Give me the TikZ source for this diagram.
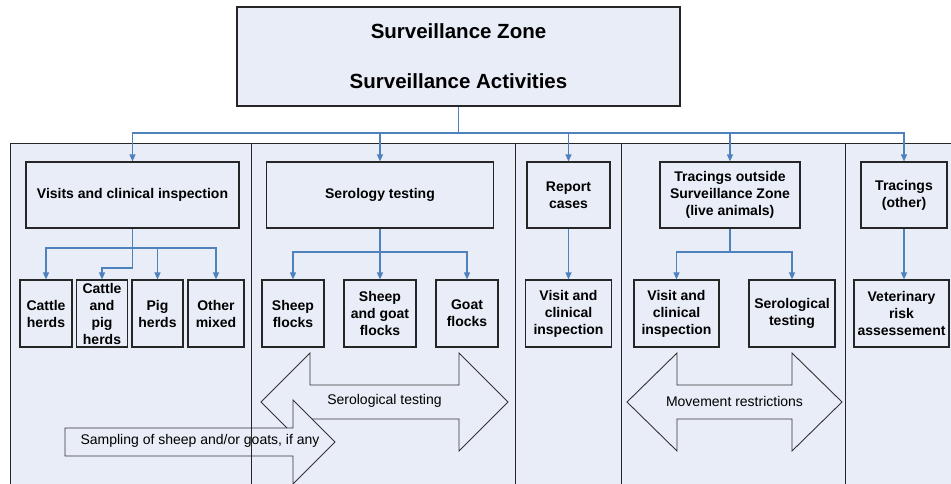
\documentclass[tikz,border=0pt]{standalone}
\usepackage{fontspec}
\setmainfont{Liberation Sans}
\usetikzlibrary{arrows.meta}

\definecolor{zonefill}{RGB}{232,237,247}
\definecolor{linkblue}{RGB}{79,129,189}

\tikzset{
	act/.style={rectangle, draw=black!85, line width=1.2pt, fill=zonefill, inner sep=0pt, align=center, font=\fontsize{14}{17}\selectfont\bfseries},
	link/.style={draw=linkblue, line width=1.2pt, -{Triangle[length=7pt,width=6pt]}},
	bus/.style={draw=linkblue, line width=1.2pt},
	bigarrow/.style={draw=black!80, line width=0.9pt, fill=zonefill},
	arrowtext/.style={inner sep=0pt, font=\fontsize{14}{17}\selectfont},
	panel/.style={draw=black!85, line width=0.9pt}
}

\begin{document}
\begin{tikzpicture}[x=1pt,y=-1pt]

	\useasboundingbox (0,0) rectangle (951,483);
	\clip (0,0) rectangle (951,483);
	\fill[white] (0,0) rectangle (951,483);

	% panels
	\fill[zonefill] (10,143) rectangle (960,500);

	\node 	(zone)		at	(458.5,56.5) 	[act, minimum width=443, minimum height=99, font=\fontsize{20.5}{50}\selectfont\bfseries]{Surveillance Zone\\Surveillance Activities};

	\node 	(visits)	at	(132.5,195) 	[act, minimum width=213, minimum height=66]{Visits and clinical inspection};
	\node 	(sero)		at	(380,195) 	[act, minimum width=227, minimum height=66]{Serology testing};
	\node 	(report)	at	(568.5,195) 	[act, minimum width=83, minimum height=66]{Report\\cases};
	\node 	(trout)		at	(730,195) 	[act, minimum width=140, minimum height=66]{Tracings outside\\Surveillance Zone\\(live animals)};
	\node 	(trother)	at	(904,195) 	[act, minimum width=86, minimum height=66]{Tracings\\(other)};

	\node 	(cattle)	at	(46,313.5) 	[act, minimum width=52, minimum height=67]{Cattle\\herds};
	\node 	(cattlepig)	at	(102,313.5) 	[act, minimum width=51, minimum height=67]{Cattle\\and\\pig\\herds};
	\node 	(pig)		at	(157.5,313.5) 	[act, minimum width=51, minimum height=67]{Pig\\herds};
	\node 	(other)		at	(216,313.5) 	[act, minimum width=56, minimum height=67]{Other\\mixed};

	\node 	(sheep)		at	(293,313.5) 	[act, minimum width=62, minimum height=67]{Sheep\\flocks};
	\node 	(sheepgoat)	at	(380,313.5) 	[act, minimum width=72, minimum height=67]{Sheep\\and goat\\flocks};
	\node 	(goat)		at	(467,313.5) 	[act, minimum width=62, minimum height=67]{Goat\\flocks};

	\node 	(visitr)	at	(568.5,313.5) 	[act, minimum width=86, minimum height=67]{Visit and\\clinical\\inspection};

	\node 	(visitt)	at	(676.5,313.5) 	[act, minimum width=85, minimum height=67]{Visit and\\clinical\\inspection};
	\node 	(serot)		at	(792,313.5) 	[act, minimum width=86, minimum height=67]{Serological\\testing};

	\node 	(vet)		at	(901.5,313.5) 	[act, minimum width=95, minimum height=67]{Veterinary\\risk\\assessement};

	% big arrows
	\draw[bigarrow]	(261,402) -- (310,353) -- (310,385) -- (459,385) -- (459,353) -- (508,402) -- (459,451) -- (459,419) -- (310,419) -- (310,451) -- cycle;
	\node 	(serolabel)	at	(384.5,401) 	[arrowtext]{Serological testing};

	\draw[bigarrow]	(627,402) -- (677,353) -- (677,385) -- (792,385) -- (792,353) -- (842,402) -- (792,451) -- (792,419) -- (677,419) -- (677,451) -- cycle;
	\node 	(movelabel)	at	(734.5,401) 	[arrowtext]{Movement restrictions};

	\draw[bigarrow]	(65,428) -- (293,428) -- (293,400) -- (335,442) -- (293,484) -- (293,456) -- (65,456) -- cycle;
	\node 	(samplabel)	at	(200,441) 	[arrowtext]{Sampling of sheep and/or goats, if any};

	% panel borders
	\draw[panel]	(10,500) -- (10,143) -- (960,143);
	\draw[panel]	(251,143) -- (251,500);
	\draw[panel]	(515,143) -- (515,500);
	\draw[panel]	(621,143) -- (621,500);
	\draw[panel]	(845,143) -- (845,500);

	% connectors
	\coordinate	(top)	at	(458.5,133);
	\draw[bus]	(zone)	--	(top);
	\draw[link]	(top)	-|	(visits);
	\draw[link]	(top)	-|	(sero);
	\draw[link]	(top)	-|	(report);
	\draw[link]	(top)	-|	(trout);
	\draw[link]	(top)	-|	(trother);

	\coordinate	(vbus)	at	(132.5,248);
	\coordinate	(vlow)	at	(132.5,268);
	\draw[bus]	(visits)	--	(vlow);
	\draw[link]	(vbus)	-|	(cattle);
	\draw[link]	(vbus)	-|	(pig);
	\draw[link]	(vbus)	-|	(other);
	\draw[link]	(vlow)	-|	(cattlepig);

	\coordinate	(sbus)	at	(380,252);
	\draw[bus]	(sero)	--	(sbus);
	\draw[link]	(sbus)	-|	(sheep);
	\draw[link]	(sbus)	--	(sheepgoat);
	\draw[link]	(sbus)	-|	(goat);

	\draw[link]	(report)	--	(visitr);

	\coordinate	(tbus)	at	(730,252);
	\draw[bus]	(trout)	--	(tbus);
	\draw[link]	(tbus)	-|	(visitt);
	\draw[link]	(tbus)	-|	(serot);

	\draw[link]	(trother)	--	(trother |- vet.north);

\end{tikzpicture}
\end{document}
